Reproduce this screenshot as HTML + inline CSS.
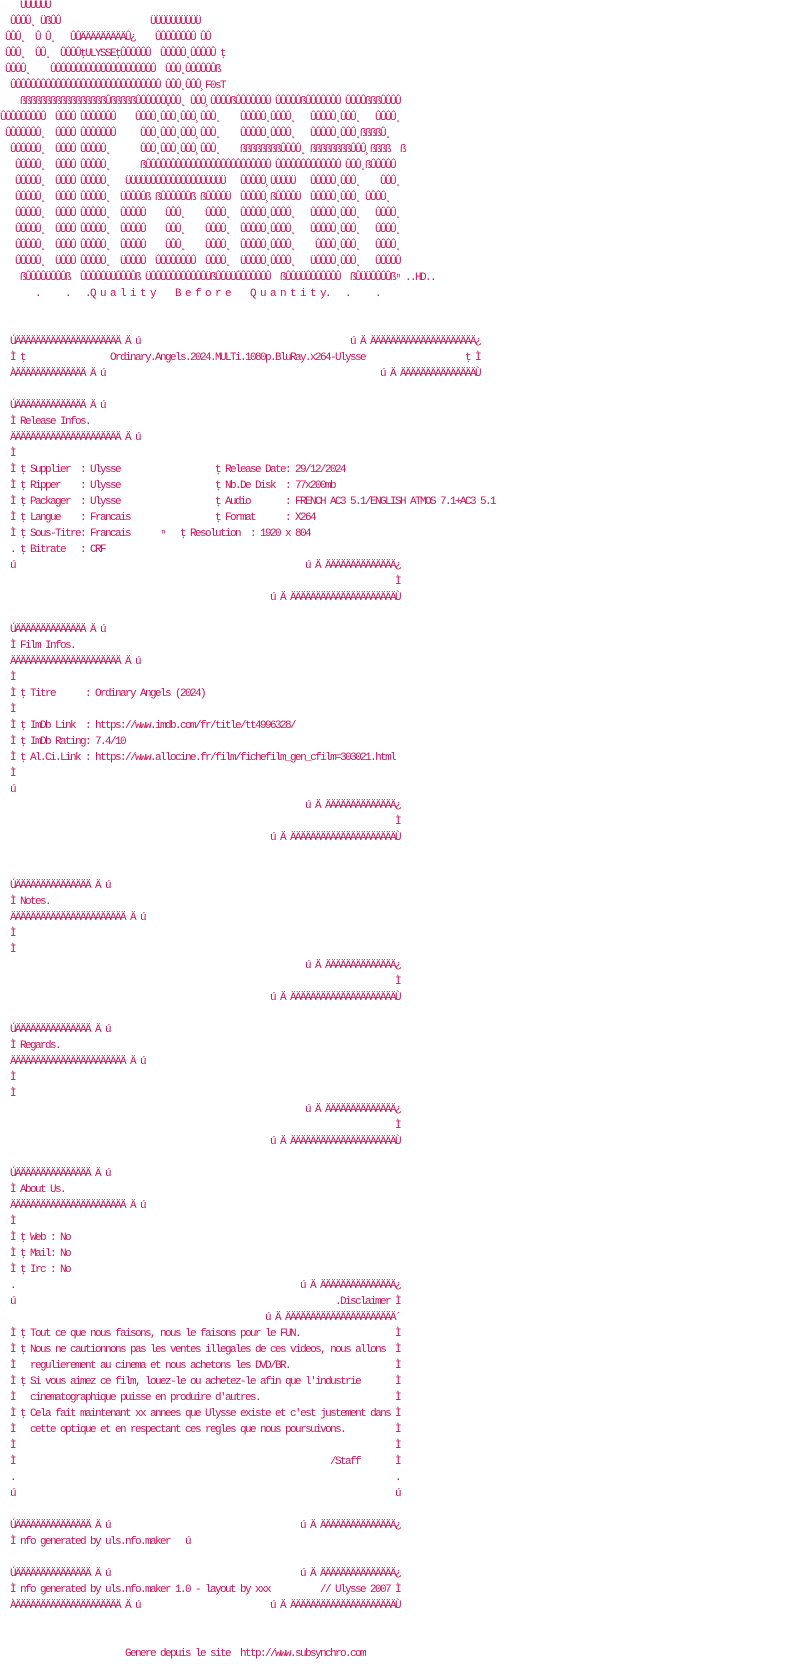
<!DOCTYPE html>
<html><head><meta charset="utf-8">
<style>
html,body{margin:0;padding:0;background:#fff;}
body{width:792px;height:1664px;position:relative;overflow:hidden;}
div{position:absolute;left:0;width:792px;height:16px;}
i{position:absolute;top:0;font-style:normal;white-space:pre;font-family:"Liberation Mono",monospace;font-size:11px;font-weight:normal;letter-spacing:-1.6px;line-height:16px;color:#d0105a;}
</style></head><body>
<div style="top:-2px"><i style="left:20px">ÛÛÛÛÛÛ</i></div>
<div style="top:14px"><i style="left:10px">ÛÛÛÛ˛ ÜßÛÛ</i><i style="left:150px">ÜÜÜÜÜÜÜÜÜÜ</i></div>
<div style="top:30px"><i style="left:5px">ÛÛÛ˛  Û Û˛</i><i style="left:70px">ÛÛÄÄÄÄÄÄÄÄÄÛ¿</i><i style="left:155px">ÛÛÛÛÛÛÛÛ ÛÛ</i></div>
<div style="top:46px"><i style="left:5px">ÛÛÛ˛  ÛÛ˛</i><i style="left:60px">ÛÛÛÛţULYSSEţÛÛÛÛÛÛ</i><i style="left:160px">ÛÛÛÛÛ˛ÛÛÛÛÛ ţ</i></div>
<div style="top:62px"><i style="left:5px">ÛÛÛÛ˛</i><i style="left:50px">ÛÛÛÛÛÛÛÛÛÛÛÛÛÛÛÛÛÛÛÛÛ</i><i style="left:165px">ÛÛÛ˛ÛÛÛÛÛÛß</i></div>
<div style="top:78px"><i style="left:10px">ÛÛÛÛÛÛÛÛÛÛÛÛÛÛÛÛÛÛÛÛÛÛÛÛÛÛÛÛÛÛ</i><i style="left:165px">ÛÛÛ˛ÛÛÛ¸F0sT</i></div>
<div style="top:94px"><i style="left:20px">ßßßßßßßßßßßßßßßßßÛßßßßßÛÛÛÛÛÛ˛</i><i style="left:165px">ÛÛÛ˛</i><i style="left:190px">ÛÛÛ¸ÛÛÛÛßÛÛÛÛÛÛÛ</i><i style="left:275px">ÛÛÛÛÛßÛÛÛÛÛÛÛ</i><i style="left:345px">ÛÛÛÛßßßÛÛÛÛ</i></div>
<div style="top:110px"><i style="left:0px">ÛÛÛÛÛÛÛÛÛ</i><i style="left:55px">ÛÛÛÛ ÛÛÛÛÛÛÛ</i><i style="left:135px">ÛÛÛÛ˛ÛÛÛ˛ÛÛÛ¸ÛÛÛ˛</i><i style="left:240px">ÛÛÛÛÛ˛ÛÛÛÛ˛</i><i style="left:310px">ÛÛÛÛÛ˛ÛÛÛ˛</i><i style="left:375px">ÛÛÛÛ˛</i></div>
<div style="top:126px"><i style="left:5px">ÛÛÛÛÛÛÛ˛</i><i style="left:55px">ÛÛÛÛ ÛÛÛÛÛÛÛ</i><i style="left:140px">ÛÛÛ˛ÛÛÛ˛ÛÛÛ¸ÛÛÛ˛</i><i style="left:240px">ÛÛÛÛÛ˛ÛÛÛÛ˛</i><i style="left:310px">ÛÛÛÛÛ˛ÛÛÛ˛ßßßßÛ˛</i></div>
<div style="top:142px"><i style="left:10px">ÛÛÛÛÛÛ˛</i><i style="left:55px">ÛÛÛÛ ÛÛÛÛÛ˛</i><i style="left:140px">ÛÛÛ˛ÛÛÛ˛ÛÛÛ¸ÛÛÛ˛</i><i style="left:240px">ßßßßßßßßÛÛÛÛ˛</i><i style="left:310px">ßßßßßßßßÛÛÛ¸ßßßß  ß</i></div>
<div style="top:158px"><i style="left:15px">ÛÛÛÛÛ˛</i><i style="left:55px">ÛÛÛÛ ÛÛÛÛÛ˛</i><i style="left:140px">ßÛÛÛÛÛÛÛÛÛÛÛÛÛÛÛÛÛÛÛÛÛÛÛÛÛ</i><i style="left:275px">ÛÛÛÛÛÛÛÛÛÛÛÛÛ</i><i style="left:345px">ÛÛÛ˛ßÛÛÛÛÛ</i></div>
<div style="top:174px"><i style="left:15px">ÛÛÛÛÛ˛</i><i style="left:55px">ÛÛÛÛ ÛÛÛÛÛ˛</i><i style="left:125px">ÜÜÜÜÜÛÛÛÛÛÛÛÛÛÛÜÜÜÜÜ</i><i style="left:240px">ÛÛÛÛÛ¸ÜÜÜÜÜ</i><i style="left:310px">ÛÛÛÛÛ˛ÛÛÛ˛</i><i style="left:380px">ÛÛÛ˛</i></div>
<div style="top:190px"><i style="left:15px">ÛÛÛÛÛ˛</i><i style="left:55px">ÛÛÛÛ ÛÛÛÛÛ˛</i><i style="left:120px">ÜÛÛÛÛß ßÛÛÛÛÛÛß ßÛÛÛÛÜ</i><i style="left:240px">ÛÛÛÛÛ¸ßÛÛÛÛÜ</i><i style="left:310px">ÛÛÛÛÛ˛ÛÛÛ˛ ÛÛÛÛ˛</i></div>
<div style="top:206px"><i style="left:15px">ÛÛÛÛÛ˛</i><i style="left:55px">ÛÛÛÛ ÛÛÛÛÛ˛</i><i style="left:120px">ÛÛÛÛÛ</i><i style="left:165px">ÛÛÛ˛</i><i style="left:205px">ÛÛÛÛ˛</i><i style="left:240px">ÛÛÛÛÛ˛ÛÛÛÛ˛</i><i style="left:310px">ÛÛÛÛÛ˛ÛÛÛ˛</i><i style="left:375px">ÛÛÛÛ˛</i></div>
<div style="top:222px"><i style="left:15px">ÛÛÛÛÛ˛</i><i style="left:55px">ÛÛÛÛ ÛÛÛÛÛ˛</i><i style="left:120px">ÛÛÛÛÛ</i><i style="left:165px">ÛÛÛ˛</i><i style="left:205px">ÛÛÛÛ˛</i><i style="left:240px">ÛÛÛÛÛ˛ÛÛÛÛ˛</i><i style="left:310px">ÛÛÛÛÛ˛ÛÛÛ˛</i><i style="left:375px">ÛÛÛÛ˛</i></div>
<div style="top:238px"><i style="left:15px">ÛÛÛÛÛ˛</i><i style="left:55px">ÛÛÛÛ ÛÛÛÛÛ˛</i><i style="left:120px">ÛÛÛÛÛ</i><i style="left:165px">ÛÛÛ˛</i><i style="left:205px">ÛÛÛÛ˛</i><i style="left:240px">ÛÛÛÛÛ˛ÛÛÛÛ˛</i><i style="left:315px">ÛÛÛÛ˛ÛÛÛ˛</i><i style="left:375px">ÛÛÛÛ˛</i></div>
<div style="top:254px"><i style="left:15px">ÛÛÛÛÛ˛</i><i style="left:55px">ÜÛÛÛ ÛÛÛÛÛ˛</i><i style="left:120px">ÜÛÛÛÛ</i><i style="left:155px">ÛÛÛÛÛÛÛÛ</i><i style="left:205px">ÛÛÛÛ˛</i><i style="left:240px">ÜÛÛÛÛ˛ÛÛÛÛ˛</i><i style="left:310px">ÜÛÛÛÛ˛ÛÛÛ˛</i><i style="left:375px">ÛÛÛÛÛ</i></div>
<div style="top:270px"><i style="left:20px">ßÛÛÛÛÜÛÛÛß</i><i style="left:80px">ÛÛÛÛÛÜÜÛÛÛÛß</i><i style="left:145px">ÜÛÛÛÛÛÛÛÛÛÛÛÜ</i><i style="left:210px">ßÛÛÜÜÛÛÛÛÛÛÛ</i><i style="left:280px">ßÛÛÜÜÛÛÛÛÛÛÛ</i><i style="left:350px">ßÛÜÜÛÛÛÛßⁿ ..HD..</i></div>
<div style="top:286px"><i style="left:35px">.</i><i style="left:65px">.</i><i style="left:85px">.Q u a l i t y</i><i style="left:175px">B e f o r e</i><i style="left:250px">Q u a n t i t y.</i><i style="left:345px">.</i><i style="left:375px">.</i></div>

<div style="top:334px"><i style="left:10px">ÚÄÄÄÄÄÄÄÄÄÄÄÄÄÄÄÄÄÄÄÄÄ Ä ú</i><i style="left:350px">ú Ä ÄÄÄÄÄÄÄÄÄÄÄÄÄÄÄÄÄÄÄÄÄ¿</i></div>
<div style="top:350px"><i style="left:10px">Ì ţ</i><i style="left:110px">Ordinary.Angels.2024.MULTi.1080p.BluRay.x264-Ulysse</i><i style="left:465px">ţ Ì</i></div>
<div style="top:366px"><i style="left:10px">ÀÄÄÄÄÄÄÄÄÄÄÄÄÄÄ Ä ú</i><i style="left:380px">ú Ä ÄÄÄÄÄÄÄÄÄÄÄÄÄÄÄÙ</i></div>

<div style="top:398px"><i style="left:10px">ÚÄÄÄÄÄÄÄÄÄÄÄÄÄÄ Ä ú</i></div>
<div style="top:414px"><i style="left:10px">Ì Release Infos.</i></div>
<div style="top:430px"><i style="left:10px">ÄÄÄÄÄÄÄÄÄÄÄÄÄÄÄÄÄÄÄÄÄÄ Ä ú</i></div>
<div style="top:446px"><i style="left:10px">Ì</i></div>
<div style="top:462px"><i style="left:10px">Ì ţ Supplier  : Ulysse</i><i style="left:215px">ţ Release Date: 29/12/2024</i></div>
<div style="top:478px"><i style="left:10px">Ì ţ Ripper    : Ulysse</i><i style="left:215px">ţ Nb.De Disk  : 77x200mb</i></div>
<div style="top:494px"><i style="left:10px">Ì ţ Packager  : Ulysse</i><i style="left:215px">ţ Audio       : FRENCH AC3 5.1/ENGLISH ATMOS 7.1+AC3 5.1</i></div>
<div style="top:510px"><i style="left:10px">Ì ţ Langue    : Francais</i><i style="left:215px">ţ Format      : X264</i></div>
<div style="top:526px"><i style="left:10px">Ì ţ Sous-Titre: Francais</i><i style="left:160px">ⁿ</i><i style="left:180px">ţ Resolution  : 1920 x 804</i></div>
<div style="top:542px"><i style="left:10px">. ţ Bitrate   : CRF</i></div>
<div style="top:558px"><i style="left:10px">ú</i><i style="left:305px">ú Ä ÄÄÄÄÄÄÄÄÄÄÄÄÄÄ¿</i></div>
<div style="top:574px"><i style="left:395px">Ì</i></div>
<div style="top:590px"><i style="left:270px">ú Ä ÄÄÄÄÄÄÄÄÄÄÄÄÄÄÄÄÄÄÄÄÄÙ</i></div>

<div style="top:622px"><i style="left:10px">ÚÄÄÄÄÄÄÄÄÄÄÄÄÄÄ Ä ú</i></div>
<div style="top:638px"><i style="left:10px">Ì Film Infos.</i></div>
<div style="top:654px"><i style="left:10px">ÄÄÄÄÄÄÄÄÄÄÄÄÄÄÄÄÄÄÄÄÄÄ Ä ú</i></div>
<div style="top:670px"><i style="left:10px">Ì</i></div>
<div style="top:686px"><i style="left:10px">Ì ţ Titre      : Ordinary Angels (2024)</i></div>
<div style="top:702px"><i style="left:10px">Ì</i></div>
<div style="top:718px"><i style="left:10px">Ì ţ ImDb Link  : https://www.imdb.com/fr/title/tt4996328/</i></div>
<div style="top:734px"><i style="left:10px">Ì ţ ImDb Rating: 7.4/10</i></div>
<div style="top:750px"><i style="left:10px">Ì ţ Al.Ci.Link : https://www.allocine.fr/film/fichefilm_gen_cfilm=303021.html</i></div>
<div style="top:766px"><i style="left:10px">Ì</i></div>
<div style="top:782px"><i style="left:10px">ú</i></div>
<div style="top:798px"><i style="left:305px">ú Ä ÄÄÄÄÄÄÄÄÄÄÄÄÄÄ¿</i></div>
<div style="top:814px"><i style="left:395px">Ì</i></div>
<div style="top:830px"><i style="left:270px">ú Ä ÄÄÄÄÄÄÄÄÄÄÄÄÄÄÄÄÄÄÄÄÄÙ</i></div>

<div style="top:878px"><i style="left:10px">ÚÄÄÄÄÄÄÄÄÄÄÄÄÄÄÄ Ä ú</i></div>
<div style="top:894px"><i style="left:10px">Ì Notes.</i></div>
<div style="top:910px"><i style="left:10px">ÄÄÄÄÄÄÄÄÄÄÄÄÄÄÄÄÄÄÄÄÄÄÄ Ä ú</i></div>
<div style="top:926px"><i style="left:10px">Ì</i></div>
<div style="top:942px"><i style="left:10px">Ì</i></div>
<div style="top:958px"><i style="left:305px">ú Ä ÄÄÄÄÄÄÄÄÄÄÄÄÄÄ¿</i></div>
<div style="top:974px"><i style="left:395px">Ì</i></div>
<div style="top:990px"><i style="left:270px">ú Ä ÄÄÄÄÄÄÄÄÄÄÄÄÄÄÄÄÄÄÄÄÄÙ</i></div>

<div style="top:1022px"><i style="left:10px">ÚÄÄÄÄÄÄÄÄÄÄÄÄÄÄÄ Ä ú</i></div>
<div style="top:1038px"><i style="left:10px">Ì Regards.</i></div>
<div style="top:1054px"><i style="left:10px">ÄÄÄÄÄÄÄÄÄÄÄÄÄÄÄÄÄÄÄÄÄÄÄ Ä ú</i></div>
<div style="top:1070px"><i style="left:10px">Ì</i></div>
<div style="top:1086px"><i style="left:10px">Ì</i></div>
<div style="top:1102px"><i style="left:305px">ú Ä ÄÄÄÄÄÄÄÄÄÄÄÄÄÄ¿</i></div>
<div style="top:1118px"><i style="left:395px">Ì</i></div>
<div style="top:1134px"><i style="left:270px">ú Ä ÄÄÄÄÄÄÄÄÄÄÄÄÄÄÄÄÄÄÄÄÄÙ</i></div>

<div style="top:1166px"><i style="left:10px">ÚÄÄÄÄÄÄÄÄÄÄÄÄÄÄÄ Ä ú</i></div>
<div style="top:1182px"><i style="left:10px">Ì About Us.</i></div>
<div style="top:1198px"><i style="left:10px">ÄÄÄÄÄÄÄÄÄÄÄÄÄÄÄÄÄÄÄÄÄÄÄ Ä ú</i></div>
<div style="top:1214px"><i style="left:10px">Ì</i></div>
<div style="top:1230px"><i style="left:10px">Ì ţ Web : No</i></div>
<div style="top:1246px"><i style="left:10px">Ì ţ Mail: No</i></div>
<div style="top:1262px"><i style="left:10px">Ì ţ Irc : No</i></div>
<div style="top:1278px"><i style="left:10px">.</i><i style="left:300px">ú Ä ÄÄÄÄÄÄÄÄÄÄÄÄÄÄÄ¿</i></div>
<div style="top:1294px"><i style="left:10px">ú</i><i style="left:335px">.Disclaimer Ì</i></div>
<div style="top:1310px"><i style="left:265px">ú Ä ÄÄÄÄÄÄÄÄÄÄÄÄÄÄÄÄÄÄÄÄÄÄ´</i></div>
<div style="top:1326px"><i style="left:10px">Ì ţ Tout ce que nous faisons, nous le faisons pour le FUN.</i><i style="left:395px">Ì</i></div>
<div style="top:1342px"><i style="left:10px">Ì ţ Nous ne cautionnons pas les ventes illegales de ces videos, nous allons</i><i style="left:395px">Ì</i></div>
<div style="top:1358px"><i style="left:10px">Ì   regulierement au cinema et nous achetons les DVD/BR.</i><i style="left:395px">Ì</i></div>
<div style="top:1374px"><i style="left:10px">Ì ţ Si vous aimez ce film, louez-le ou achetez-le afin que l'industrie</i><i style="left:395px">Ì</i></div>
<div style="top:1390px"><i style="left:10px">Ì   cinematographique puisse en produire d'autres.</i><i style="left:395px">Ì</i></div>
<div style="top:1406px"><i style="left:10px">Ì ţ Cela fait maintenant xx annees que Ulysse existe et c'est justement dans</i><i style="left:395px">Ì</i></div>
<div style="top:1422px"><i style="left:10px">Ì   cette optique et en respectant ces regles que nous poursuivons.</i><i style="left:395px">Ì</i></div>
<div style="top:1438px"><i style="left:10px">Ì</i><i style="left:395px">Ì</i></div>
<div style="top:1454px"><i style="left:10px">Ì</i><i style="left:330px">/Staff</i><i style="left:395px">Ì</i></div>
<div style="top:1470px"><i style="left:10px">.</i><i style="left:395px">.</i></div>
<div style="top:1486px"><i style="left:10px">ú</i><i style="left:395px">ú</i></div>

<div style="top:1518px"><i style="left:10px">ÚÄÄÄÄÄÄÄÄÄÄÄÄÄÄÄ Ä ú</i><i style="left:300px">ú Ä ÄÄÄÄÄÄÄÄÄÄÄÄÄÄÄ¿</i></div>
<div style="top:1534px"><i style="left:10px">Ì nfo generated by uls.nfo.maker   ú</i></div>
<div style="top:1566px"><i style="left:10px">ÚÄÄÄÄÄÄÄÄÄÄÄÄÄÄÄ Ä ú</i><i style="left:300px">ú Ä ÄÄÄÄÄÄÄÄÄÄÄÄÄÄÄ¿</i></div>
<div style="top:1582px"><i style="left:10px">Ì nfo generated by uls.nfo.maker 1.0 - layout by xxx</i><i style="left:320px">// Ulysse 2007 Ì</i></div>
<div style="top:1598px"><i style="left:10px">ÀÄÄÄÄÄÄÄÄÄÄÄÄÄÄÄÄÄÄÄÄÄ Ä ú</i><i style="left:270px">ú Ä ÄÄÄÄÄÄÄÄÄÄÄÄÄÄÄÄÄÄÄÄÄÙ</i></div>
<div style="top:1646px"><i style="left:125px">Genere depuis le site  http://www.subsynchro.com</i></div>
</body></html>
